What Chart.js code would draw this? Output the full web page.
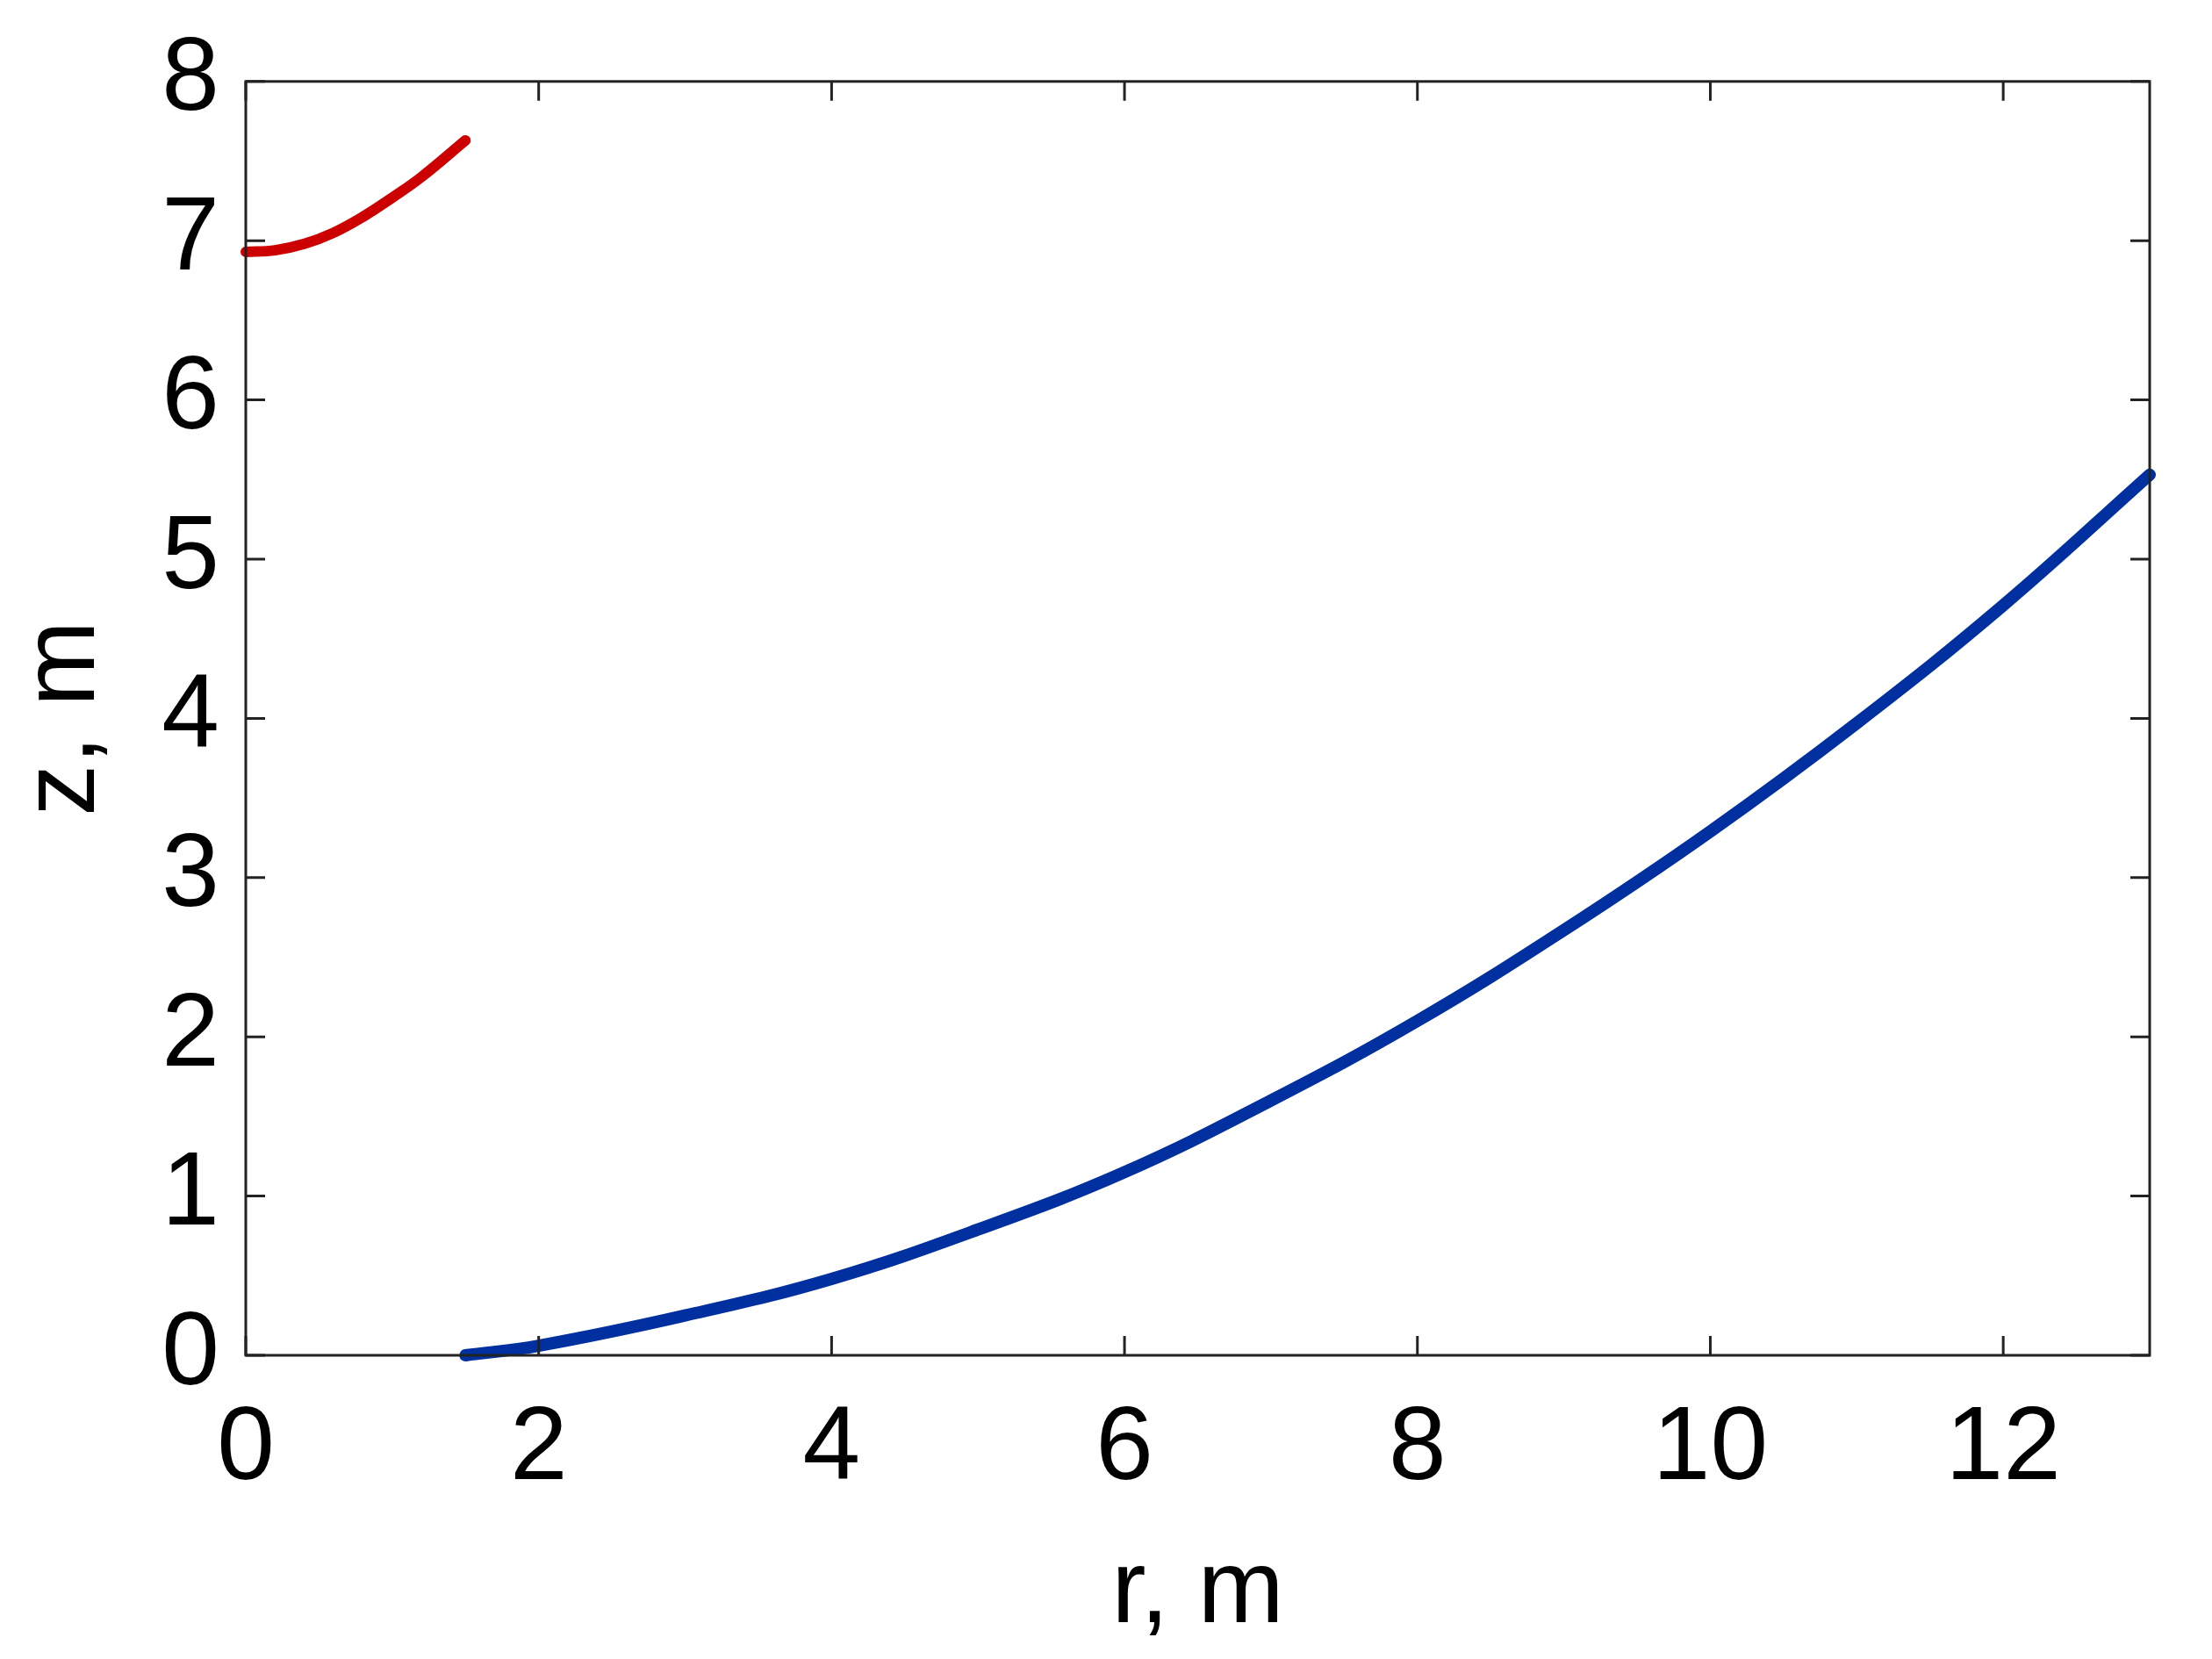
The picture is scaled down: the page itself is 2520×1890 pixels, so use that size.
<!DOCTYPE html>
<html><head><meta charset="utf-8">
<script src="https://cdn.jsdelivr.net/npm/chart.js@4"></script>
<style>html,body{margin:0;padding:0;background:#fff}#c{display:block}</style>
</head><body>
<canvas id="c" width="2520" height="1890"></canvas>
<script>
const blueR = [1.5, 2, 3, 4, 5, 6, 7, 8, 9, 10, 11, 12, 13];
const blueZ = [0, 0.06, 0.25, 0.48, 0.79, 1.15, 1.6, 2.1, 2.67, 3.29, 3.97, 4.71, 5.53];
const redR = [0, 0.2, 0.4, 0.6, 0.8, 1.0, 1.2, 1.5];
const redZ = [6.93, 6.94, 6.98, 7.05, 7.15, 7.27, 7.40, 7.63];
const xTicks = [0, 2, 4, 6, 8, 10, 12];
const yTicks = [0, 1, 2, 3, 4, 5, 6, 7, 8];

const pts = (xs, ys) => xs.map((x, i) => ({x, y: ys[i]}));
const font = {family: 'Liberation Sans, Arial, sans-serif', size: 118};

const frame = {
  id: 'frame',
  afterDatasetsDraw(chart) {
    const {ctx, chartArea: a, scales: {x, y}} = chart;
    ctx.save();
    ctx.strokeStyle = '#222'; ctx.lineWidth = 3;
    ctx.strokeRect(a.left, a.top, a.right - a.left, a.bottom - a.top);
    const L = 22;
    ctx.beginPath();
    xTicks.forEach(v => { const p = x.getPixelForValue(v);
      ctx.moveTo(p, a.bottom); ctx.lineTo(p, a.bottom - L);
      ctx.moveTo(p, a.top); ctx.lineTo(p, a.top + L); });
    yTicks.forEach(v => { const p = y.getPixelForValue(v);
      ctx.moveTo(a.left, p); ctx.lineTo(a.left + L, p);
      ctx.moveTo(a.right, p); ctx.lineTo(a.right - L, p); });
    ctx.stroke();
    ctx.restore();
  }
};

new Chart(document.getElementById('c'), {
  type: 'scatter',
  data: { datasets: [
    {data: pts(blueR, blueZ), showLine: true, borderColor: '#0030a0', borderWidth: 14, pointRadius: 0, tension: 0.4, clip: false, borderCapStyle: 'round'},
    {data: pts(redR, redZ), showLine: true, borderColor: '#cc0000', borderWidth: 12, pointRadius: 0, tension: 0.4, clip: false, borderCapStyle: 'round'}
  ]},
  options: {
    responsive: false, animation: false, devicePixelRatio: 1,
    layout: {padding: {left: 0, right: 71, top: 77, bottom: 0}},
    plugins: {legend: {display: false}, tooltip: {enabled: false}},
    scales: {
      x: {type: 'linear', min: 0, max: 13,
        afterBuildTicks: s => { s.ticks = xTicks.map(v => ({value: v})); },
        afterFit: s => { s.height = 346; },
        grid: {display: false}, border: {display: false},
        ticks: {color: '#000', font, padding: 30, maxRotation: 0},
        title: {display: true, text: 'r, m', color: '#000', font, padding: {top: 0}}},
      y: {type: 'linear', min: 0, max: 8,
        afterBuildTicks: s => { s.ticks = yTicks.map(v => ({value: v})); },
        afterFit: s => { s.width = 280; },
        grid: {display: false}, border: {display: false},
        ticks: {color: '#000', font, padding: 22},
        title: {display: true, text: 'z, m', color: '#000', font, padding: {bottom: 0}}}
    }
  },
  plugins: [frame]
});
</script>
</body></html>
